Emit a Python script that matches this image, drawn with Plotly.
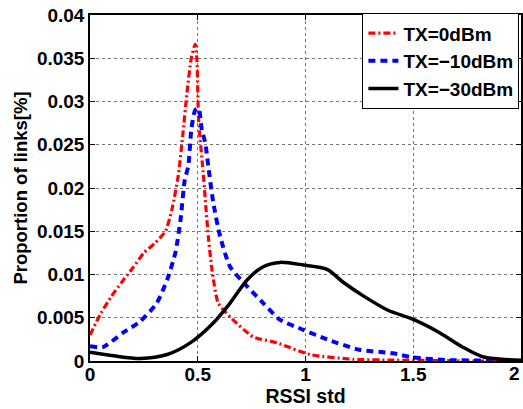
import plotly.graph_objects as go

# Data
x_tx0 = [0.0, 0.05, 0.1, 0.15, 0.2, 0.25, 0.3, 0.35, 0.38, 0.41, 0.43, 0.45, 0.47, 0.488, 0.496, 0.504, 0.525, 0.549, 0.566, 0.595, 0.65, 0.757, 0.868, 1.02, 1.22, 1.4, 1.6, 1.8, 2.0]
y_tx0 = [0.003, 0.0055, 0.0075, 0.0092, 0.0108, 0.0125, 0.0136, 0.015, 0.0175, 0.0215, 0.026, 0.031, 0.035, 0.0366, 0.0348, 0.0279, 0.0218, 0.0144, 0.0106, 0.0067, 0.0051, 0.0028, 0.0021, 0.00075, 0.0002, 0.0001, 0.00005, 0.0, 0.0]

x_tx10 = [0.0, 0.06, 0.155, 0.234, 0.31, 0.358, 0.396, 0.42, 0.44, 0.456, 0.47, 0.488, 0.504, 0.519, 0.535, 0.549, 0.572, 0.604, 0.65, 0.73, 0.804, 0.88, 0.99, 1.1, 1.25, 1.405, 1.5, 1.67, 1.85, 2.0]
y_tx10 = [0.0017, 0.0016, 0.0033, 0.0046, 0.0067, 0.0094, 0.0125, 0.0163, 0.021, 0.0225, 0.0267, 0.029, 0.0292, 0.0267, 0.0252, 0.0225, 0.0183, 0.0144, 0.0109, 0.0086, 0.0067, 0.0048, 0.0036, 0.0025, 0.0013, 0.0009, 0.0004, 0.0001, 0.00005, 0.0]

x_tx30 = [0.0, 0.11, 0.234, 0.358, 0.465, 0.572, 0.65, 0.73, 0.804, 0.882, 0.99, 1.1, 1.175, 1.27, 1.38, 1.5, 1.62, 1.73, 1.82, 1.91, 2.0]
y_tx30 = [0.001, 0.0006, 0.0003, 0.00075, 0.0021, 0.0044, 0.0067, 0.0094, 0.0109, 0.0114, 0.0111, 0.0106, 0.0091, 0.0075, 0.0059, 0.0048, 0.0033, 0.0016, 0.0005, 0.0002, 0.0001]

x_ticks = [0, 0.5, 1, 1.5, 2]
x_tick_labels = ["0", "0.5", "1", "1.5", "2"]
y_ticks = [0, 0.005, 0.01, 0.015, 0.02, 0.025, 0.03, 0.035, 0.04]
y_tick_labels = ["0", "0.005", "0.01", "0.015", "0.02", "0.025", "0.03", "0.035", "0.04"]

font_family = "Liberation Sans, Arial, sans-serif"
tick_font = dict(family=font_family, size=19, color="black", weight="bold")

# the last x label sits at the page edge: draw it right-anchored at its tick instead
x_tick_text = x_tick_labels[:-1] + [""]

fig = go.Figure()
fig.add_trace(go.Scatter(x=x_tx0, y=y_tx0, mode="lines", name="TX=0dBm",
                         line=dict(color="red", width=3.2, dash="7px,3px,2px,3px", shape="spline", smoothing=0.6)))
fig.add_trace(go.Scatter(x=x_tx10, y=y_tx10, mode="lines", name="TX=\u221210dBm",
                         line=dict(color="blue", width=4, dash="7px,5px", shape="spline", smoothing=0.6)))
fig.add_trace(go.Scatter(x=x_tx30, y=y_tx30, mode="lines", name="TX=\u221230dBm",
                         line=dict(color="black", width=3.5, shape="spline", smoothing=0.8)))

axis_common = dict(
    showline=True, linecolor="black", linewidth=1.5, mirror="ticks",
    ticks="inside", ticklen=5, tickcolor="black", tickwidth=1,
    showgrid=True, gridcolor="#777777", griddash="dot", gridwidth=1,
    zeroline=False, ticklabeloverflow="allow",
    tickfont=tick_font,
)

fig.update_layout(
    width=523, height=409,
    margin=dict(l=89.5, r=1.5, t=15, b=47.5, autoexpand=False),
    paper_bgcolor="white", plot_bgcolor="white",
    font=dict(family=font_family, color="black"),
    xaxis=dict(range=[0, 2], tickvals=x_ticks, ticktext=x_tick_text, ticklabelstandoff=-5,
               title=dict(text="<b>RSSI std</b>", font=dict(size=19.5, family=font_family), standoff=0),
               **axis_common),
    yaxis=dict(range=[0, 0.04], tickvals=y_ticks, ticktext=y_tick_labels,
               title=dict(text="<b>Proportion of links[%]</b>", font=dict(size=18.5, family=font_family), standoff=4),
               **axis_common),
    legend=dict(x=0.632, y=1.005, xanchor="left", yanchor="top",
                bgcolor="white", bordercolor="black", borderwidth=1,
                font=dict(family=font_family, size=19, color="black", weight="bold"),
                tracegroupgap=0, itemwidth=30),
    showlegend=True,
)

fig.add_annotation(x=x_ticks[-1], y=y_ticks[0], xref="x", yref="y",
                   text=x_tick_labels[-1], showarrow=False,
                   xanchor="right", yanchor="top", yshift=-1, borderpad=0,
                   font=tick_font)

fig.write_html("out.html")
